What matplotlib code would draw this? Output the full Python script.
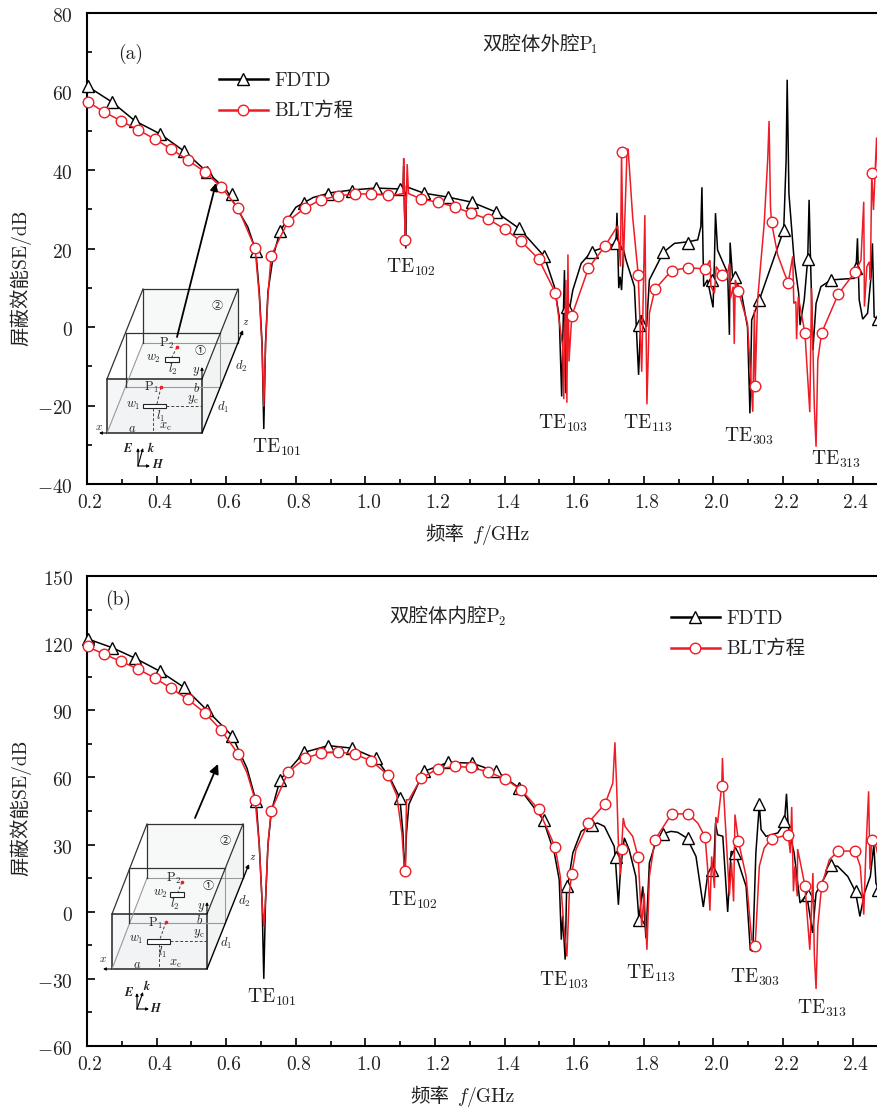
import matplotlib
matplotlib.use('Agg')
import matplotlib.pyplot as plt
from matplotlib.patches import Polygon, Rectangle
from matplotlib.ticker import MultipleLocator
from matplotlib.lines import Line2D
from matplotlib.transforms import ScaledTranslation

plt.rcParams['font.family'] = ['cmr10', 'Noto Sans CJK SC', 'DejaVu Sans']
plt.rcParams['mathtext.fontset'] = 'cm'
plt.rcParams['axes.unicode_minus'] = False
plt.rcParams['axes.formatter.use_mathtext'] = True

W, H = 878, 1110
FS = 14
INK = '#222222'
RED = '#ee1c25'

# ---- marker sample frequencies (GHz)
black_mark_f = [.203, .272, .338, .41, .479, .545, .617, .686, .755, .824, .893, .961, 1.03, 1.099, 1.168, 1.237,
                1.306, 1.375, 1.441, 1.513, 1.579, 1.651, 1.72, 1.786, 1.855, 1.927, 1.996, 2.062, 2.131, 2.203,
                2.272, 2.338, 2.41, 2.473]
red_mark_f = [.203, .249, .298, .347, .395, .441, .49, .539, .585, .634, .683, .729, .778, .826, .872, .921, .97,
              1.016, 1.065, 1.114, 1.16, 1.208, 1.257, 1.303, 1.352, 1.4, 1.447, 1.498, 1.545, 1.593, 1.64, 1.689,
              1.736, 1.784, 1.832, 1.88, 1.928, 1.976, 2.024, 2.072, 2.12, 2.167, 2.215, 2.263, 2.311, 2.359, 2.407,
              2.455]

# ---- panel (a) values
a_black_mark = [61.4, 57.3, 52.5, 49.2, 44.8, 39.5, 33.9, 19.4, 24.5, 31.6, 33.9, 34.7, 35.4, 35.2, 34.1, 33.1, 31.8,
                29.3, 25.1, 18, 5, 19.2, 21.3, 0.5, 19, 21.5, 12, 12.7, 7, 24.7, 17.3, 12, 15, 2]
a_red_mark = [57.3, 54.8, 52.5, 50.2, 47.9, 45.4, 42.5, 39.5, 35.7, 30.3, 20.1, 18.1, 27, 30.3, 32.4, 33.4, 33.9, 33.9,
              33.6, 22.2, 32.6, 31.8, 30.6, 29, 27.5, 25, 21.8, 17.3, 8.6, 2.8, 15, 20.7, 44.6, 13.2, 9.7, 14.3, 15,
              14.8, 13.2, 9.2, -15, 26.8, 11.3, -1.5, -1.5, 8.4, 14, 39.2]
a_black_f = [.2, .272, .338, .41, .479, .545, .6, .662, .685, .695, .703, .708, .713, .72, .735, .755, .8, .85, .9,
             .96, 1.03, 1.09, 1.108, 1.11, 1.112, 1.116, 1.118, 1.125, 1.168, 1.237, 1.306, 1.375,
             1.442, 1.514, 1.543, 1.557, 1.564, 1.568, 1.572, 1.576, 1.581, 1.596, 1.62, 1.65, 1.72, 1.723, 1.728,
             1.732, 1.736, 1.742, 1.749, 1.773, 1.785, 1.792, 1.8, 1.808, 1.816, 1.856, 1.888, 1.926, 1.955, 1.964,
             1.967, 1.972, 1.983, 1.999, 2.003, 2.006, 2.012, 2.041, 2.046, 2.048, 2.055, 2.079, 2.098, 2.105, 2.11,
             2.132, 2.202, 2.209, 2.212, 2.217, 2.232, 2.245, 2.249, 2.261, 2.271, 2.275, 2.279, 2.286, 2.295, 2.309,
             2.338, 2.405, 2.41, 2.414, 2.419, 2.429, 2.443, 2.453, 2.457, 2.462, 2.476]
a_black_se = [61.4, 57.3, 52.5, 49.2, 44.8, 39.5, 35, 25.5, 19.5, 9, -4, -26, -4, 9, 18, 24.5, 30.5, 33, 34.2,
              34.9, 35.4, 35.2, 35.5, 41, 30, 20, 36, 35.5, 34.1, 33.1, 31.8, 29.3,
              25.1, 18, 10.3, 2.6, -17.7, 0, 14.5, -16.9, 1.8, 9.4, 16.2, 19.2, 21.3, 29.1, 9.9,
              12.8, 9.4, 19.6, 17, 10.3, -12.2, 3, 1.5, 0, 12, 19, 21.3, 21.7, 22.2, 25.6,
              35.6, 10.3, 12, 5, 17, 29, 19.6, 13.7, -2, 21.5, 12.8, 9.4, 0, -22, 1.8,
              6.9, 24.7, 42.6, 63, 34, 17, 8.6, 0.5, 6.9, 17.3, 32.4, 17.3, -5.9, 6, 10.3,
              12, 12.4, 15, 22.6, 6.9, 2, 3.5, 12.8, 21.3, 2.6, 1.8]
a_red_f = [.2, .249, .298, .347, .395, .441, .49, .539, .585, .634, .683, .695, .703, .708, .713, .72, .729, .778,
           .826, .872, .921, .97, 1.016, 1.065, 1.09, 1.108, 1.11, 1.113, 1.114, 1.117, 1.12, 1.124, 1.16, 1.208,
           1.257, 1.303, 1.352, 1.4, 1.449, 1.498, 1.546, 1.567, 1.57, 1.576, 1.579, 1.582, 1.585, 1.593, 1.641,
           1.689, 1.725, 1.733, 1.736, 1.741, 1.752, 1.755, 1.768, 1.784, 1.794, 1.803, 1.809, 1.816, 1.832, 1.88,
           1.928, 1.976, 1.99, 1.993, 2.003, 2.008, 2.024, 2.041, 2.046, 2.049, 2.057, 2.06, 2.063, 2.072, 2.098,
           2.113, 2.118, 2.12, 2.127, 2.146, 2.156, 2.16, 2.164, 2.167, 2.185, 2.204, 2.215, 2.228, 2.231, 2.237,
           2.239, 2.244, 2.263, 2.277, 2.282, 2.29, 2.295, 2.3, 2.311, 2.359, 2.407, 2.424, 2.432, 2.434, 2.441,
           2.448, 2.451, 2.455, 2.46, 2.469, 2.476]
a_red_se = [57.5, 54.8, 52.5, 50.2, 47.9, 45.4, 42.5, 39.5, 35.7, 30.3, 20.1, 8, -5, -20.3, -5, 8, 18.1, 27,
            30.3, 32.4, 33.4, 33.9, 33.9, 33.6, 33.7, 34, 43, 30, 22.2, 30, 41.5, 34, 32.6, 31.8,
            30.6, 29, 27.5, 25, 21.7, 17.3, 8.7, -5, -18.4, 12, -19.3, 18.5, -8.8, 2.8, 15,
            20.7, 25.8, 15.4, 44.5, 15.4, 45.3, 45.3, 28, 13.3, -11.4, 28.5, -19.7, 3.5, 9.6, 14.4,
            15.1, 14.8, 17, 10.3, 8.6, 15.4, 13.3, 13.7, 16.2, 7.3, 10.3, -4.3, 12, 9.2, 0.9,
            -21.6, 4.3, -15, 6.9, 26.4, 42.6, 52.5, 30.7, 26.6, 18.3, 13.7, 11.3, 18, 6, 6.5,
            -3.1, 7.7, -1.5, -21.7, 9.9, -20.3, -30.5, -8.4, -1.5, 8.4, 14, 17, 31.9, 5.2, 15.4,
            16.6, 12, 39.2, 29.8, 48.3, 26.4]

# ---- panel (b) values
b_black_mark = [122, 118, 113.3, 107.4, 100.2, 90, 78.6, 49.3, 59, 71.2, 74.2, 73.1, 68.5, 50.8, 62.7, 66.7, 66.4, 62.7,
                55.3, 41.1, 11.3, 38.9, 24.4, -3.6, 34.9, 32.9, 18.8, 26.2, 48.1, 40.7, 7.6, 20.7, 9.1, 9.8]
b_red_mark = [118.5, 115.1, 111.8, 108.4, 104.4, 99.9, 94.9, 88.8, 81.2, 70.6, 50, 45.1, 62.4, 68.5, 70.9, 71.5, 70.3,
              67.5, 61.1, 18, 59.6, 63.9, 64.9, 64.5, 62.5, 59.4, 54.2, 45.9, 29, 17, 39.8, 48.3, 28, 24.3, 32.2,
              43.7, 43.7, 33.5, 56.3, 31.4, -15.2, 32.6, 34.3, 11.6, 11.6, 27.1, 27.1, 32.2]
b_black_f = [.2, .272, .338, .41, .479, .545, .617, .66, .686, .695, .703, .708, .713, .72, .73, .755, .824, .893,
             .961, 1.03, 1.07, 1.099, 1.108, 1.113, 1.118, 1.125, 1.168, 1.237, 1.306, 1.375,
             1.442, 1.511, 1.543, 1.557, 1.563, 1.567, 1.574, 1.578, 1.581, 1.596, 1.62, 1.65, 1.667, 1.687, 1.715,
             1.718, 1.727, 1.733, 1.744, 1.758, 1.777, 1.786, 1.797, 1.806, 1.816, 1.835, 1.856, 1.878, 1.897, 1.924,
             1.95, 1.971, 1.983, 1.993, 2.0, 2.006, 2.012, 2.027, 2.041, 2.051, 2.063, 2.094, 2.106, 2.113, 2.122,
             2.132, 2.137, 2.151, 2.185, 2.204, 2.21, 2.215, 2.232, 2.249, 2.268, 2.285, 2.295, 2.338, 2.357, 2.386,
             2.408, 2.421, 2.434, 2.451, 2.461, 2.467, 2.475]
b_black_se = [122, 118, 113.3, 107.4, 100.2, 90, 78.6, 64, 49.3, 30, 5, -30, 5, 30, 45, 59, 71.2, 74.2,
              73.1, 68.5, 60, 50.8, 35, 16, 35, 48, 62.7, 66.7, 66.4, 62.7,
              55.3, 41.1, 26.2, 14.3, -12.5, -2, -21.4, 8.3, 11.3, 26.2, 35.9, 38.9, 39.6, 38.1, 29.2,
              24.4, 3.1, 18.8, 33, 27.7, 15.8, -3.6, 11.3, -11.8, 21.8, 31.4, 34.9, 35.9, 35.5, 32.9,
              24.7, 2.1, 15.8, 18.8, 15.8, 39.6, 34.4, 33.7, -0.1, 27, 26.2, 11.3, -17, -17.7, 26.2,
              48.1, 36.7, 33.7, 35.2, 39.6, 52.7, 38.1, 26.2, 3.9, 7.6, -9.5, 8.3, 20.7, 20.3, 15.8,
              9.1, -2.1, 8.3, 15.8, 30, 12.8, 9.8]
b_red_f = [.2, .249, .298, .347, .395, .441, .49, .539, .585, .634, .66, .683, .695, .703, .708, .713, .72, .729, .778,
           .826, .872, .921, .97, 1.016, 1.065, 1.09, 1.105, 1.113, 1.1155, 1.116, 1.118, 1.125, 1.16, 1.208, 1.257,
           1.303, 1.352, 1.401, 1.449, 1.497, 1.545, 1.56, 1.57, 1.579, 1.586, 1.593, 1.605, 1.641, 1.689, 1.711,
           1.717, 1.722, 1.727, 1.733, 1.736, 1.741, 1.746, 1.768, 1.784, 1.794, 1.801, 1.809, 1.816, 1.832, 1.88,
           1.928, 1.955, 1.976, 1.983, 1.99, 1.995, 2.003, 2.007, 2.012, 2.024, 2.026, 2.03, 2.046, 2.052, 2.058,
           2.062, 2.072, 2.094, 2.11, 2.12, 2.132, 2.146, 2.167, 2.215, 2.221, 2.225, 2.23, 2.234, 2.241, 2.242,
           2.252, 2.263, 2.277, 2.282, 2.286, 2.29, 2.295, 2.3, 2.311, 2.333, 2.359, 2.407, 2.422, 2.432, 2.438,
           2.446, 2.45, 2.455, 2.467, 2.476]
b_red_se = [118.5, 115.1, 111.8, 108.4, 104.4, 99.9, 94.9, 88.8, 81.2, 70.6, 62, 50, 30, 5, -6.6, 5, 30, 45.1, 62.4,
            68.5, 70.9, 71.5, 70.3, 67.5, 61.1, 52, 35, 17.4, 20, 28, 50, 50, 59.6, 63.9, 64.9,
            64.5, 62.5, 59.4, 54.2, 45.9, 29, 15.8, -6.5, -20, 8.3, 17, 27.7, 39.8, 48.3, 57.5,
            75.7, 56, 30.7, 16.5, 28, 41.9, 38.1, 33.7, 24.3, -6.5, 8.3, -17, 15.8, 32.2, 43.7,
            43.7, 39.6, 33.5, 20.3, 0.5, 24.7, 10.6, 42.3, 39.6, 56.3, 68.7, 51.5, 7.3, 22, 4.6,
            43.4, 31.4, 15.8, -12.5, -15.2, 20.3, 28.5, 32.6, 34.3, 26.2, 46.8, 9.1, 20.3, 6.9, 28,
            20.3, 11.6, -17, 2.4, 17.3, -19.2, -34.5, -6.5, 11.6, 23.2, 27.1, 27.1, 20.3, -1.3, 26.2,
            53.8, 18.8, 32.2, 29.2, 23.2]

x_ticks = [0.2, 0.4, 0.6, 0.8, 1.0, 1.2, 1.4, 1.6, 1.8, 2.0, 2.2, 2.4]
a_y_ticks = [-40, -20, 0, 20, 40, 60, 80]
b_y_ticks = [-60, -30, 0, 30, 60, 90, 120, 150]

fig = plt.figure(figsize=(W / 100, H / 100), dpi=100)
px = 1 / 100


def make_axes(top, bottom):
    ax = fig.add_axes([87 / W, 1 - bottom / H, 791 / W, (bottom - top) / H])
    ax.set_xlim(0.2, 0.2 + 791 / 348)
    ax.spines['right'].set_visible(False)
    for s in ax.spines.values():
        s.set_linewidth(1.5)
    ax.tick_params(which='major', direction='in', length=5.8, width=1.2, pad=10, labelsize=FS, colors='k',
                   labelcolor=INK)
    ax.tick_params(which='minor', direction='in', length=3.6, width=1.2)
    ax.tick_params(axis='x', which='major', pad=7.5)
    ax.set_xticks(x_ticks)
    ax.set_xticklabels([f'{t:.1f}' for t in x_ticks])
    ax.xaxis.set_minor_locator(MultipleLocator(0.1))
    return ax


def nudge(ax):
    for lab in ax.get_xticklabels():
        lab.set_transform(lab.get_transform() + ScaledTranslation(3 * px, 0, fig.dpi_scale_trans))
    for lab in ax.get_yticklabels():
        lab.set_transform(lab.get_transform() + ScaledTranslation(0, -2 * px, fig.dpi_scale_trans))


def draw(ax, bf, bs, bmf, bms, rf, rs, rmf, rms):
    ax.plot(bf, bs, color='k', lw=1.1, zorder=2, solid_joinstyle='miter')
    ax.plot(bmf, bms, ls='none', marker='^', ms=8.5, mfc='white', mec='k', mew=1.0, zorder=3, clip_on=False)
    ax.plot(rf, rs, color=RED, lw=1.1, zorder=4, solid_joinstyle='miter')
    ax.plot(rmf, rms, ls='none', marker='o', ms=7.6, mfc='white', mec=RED, mew=1.0, zorder=5, clip_on=False)


ax_a = make_axes(13, 484)
ax_a.set_ylim(-40, 80)
ax_a.set_yticks(a_y_ticks)
ax_a.set_yticklabels([f'${v}$' for v in a_y_ticks])
ax_a.yaxis.set_minor_locator(MultipleLocator(10))
draw(ax_a, a_black_f, a_black_se, black_mark_f, a_black_mark, a_red_f, a_red_se, red_mark_f, a_red_mark)
nudge(ax_a)

ax_b = make_axes(576, 1046)
ax_b.set_ylim(-60, 150)
ax_b.set_yticks(b_y_ticks)
ax_b.set_yticklabels([f'${v}$' for v in b_y_ticks])
ax_b.yaxis.set_minor_locator(MultipleLocator(15))
draw(ax_b, b_black_f, b_black_se, black_mark_f, b_black_mark, b_red_f, b_red_se, red_mark_f, b_red_mark)
nudge(ax_b)

for ax, xpx, ypx in ((ax_a, 219, 72), (ax_b, 671, 610)):
    handles = [Line2D([], [], color='k', lw=1.8, marker='^', ms=8.5, mfc='white', mec='k', mew=1.0),
               Line2D([], [], color=RED, lw=1.8, marker='o', ms=7.6, mfc='white', mec=RED, mew=1.0)]
    ax.legend(handles, ['FDTD', 'BLT方程'], loc='upper left', bbox_to_anchor=(xpx / W, 1 - ypx / H),
              bbox_transform=fig.transFigure, frameon=False, borderpad=0, borderaxespad=0, numpoints=1,
              handlelength=2.5, handletextpad=0.36, labelspacing=0.62, fontsize=FS, labelcolor=INK)

# overlay in pixel coordinates for annotations and the schematic insets
ov = fig.add_axes([0, 0, 1, 1], zorder=10)
ov.set_xlim(0, W)
ov.set_ylim(H, 0)
ov.axis('off')
ov.patch.set_alpha(0)


def T(x, y, s, size=FS, ha='center', va='center', rot=0):
    ov.text(x, y, s, fontsize=size, ha=ha, va=va, rotation=rot, color=INK)


T(131, 54, '(a)')
T(118, 600, '(b)')
T(482, 45, '双腔体外腔P', ha='left')
T(591, 50, '1', size=9, ha='left')
T(389, 617, '双腔体内腔P', ha='left')
T(498, 622, '2', size=9, ha='left')

for x, y, m in ((277, 447, '101'), (411, 267, '102'), (563, 423, '103'), (648, 423, '113'), (749, 436, '303'),
                (836, 459, '313'), (272, 997, '101'), (413, 900, '102'), (564, 980, '103'), (651, 973, '113'),
                (755, 977, '303'), (822, 1008, '313')):
    T(x, y, r'$\mathrm{TE}_{%s}$' % m, size=FS)

for yc in (278, 808):
    T(21, yc, '屏蔽效能SE/dB', rot=90)
for xs, ys in ((425, 535), (410, 1097)):
    T(xs, ys, '频率', ha='left')
    T(xs + 47, ys, '$f$', ha='left')
    T(xs + 57, ys, '/GHz', ha='left')


def arrow(x0, y0, x1, y1, lw=1.0, ms=6, style='-|>'):
    ov.annotate('', xy=(x1, y1), xytext=(x0, y0),
                arrowprops=dict(arrowstyle=style, lw=lw, color='k', mutation_scale=ms, shrinkA=0, shrinkB=0))


def cavity(front, mid, back, z_end, items, rects, dashes, dots, yarr, xarr, ekh):
    for verts, a in (([back[0], back[1], back[2], back[3]], .45), ([back[3], back[2], front[2], front[3]], .45),
                     ([front[0], front[1], front[2], front[3]], .55), ([front[1], back[1], back[2], front[2]], .45)):
        ov.add_patch(Polygon(verts, closed=True, fc='#eef0f1', ec='none', alpha=a))
    ov.plot([back[3][0], back[2][0]], [back[3][1], back[2][1]], color='#999999', lw=0.8)
    ov.plot([back[3][0], front[3][0]], [back[3][1], front[3][1]], color='#999999', lw=0.8)
    ov.plot([mid[3][0], mid[2][0], mid[1][0]], [mid[3][1], mid[2][1], mid[1][1]], color='#999999', lw=0.8)
    ov.plot([mid[3][0], mid[0][0], mid[1][0]], [mid[3][1], mid[0][1], mid[1][1]], color='#333333', lw=0.9)
    ov.plot([back[3][0], back[0][0], back[1][0], back[2][0]], [back[3][1], back[0][1], back[1][1], back[2][1]],
            color='#333333', lw=0.9)
    ov.add_patch(Polygon(front, closed=True, fc='none', ec='#222222', lw=1.1))
    ov.plot([front[0][0], back[0][0]], [front[0][1], back[0][1]], color='#333333', lw=0.9)
    ov.plot([front[1][0], back[1][0]], [front[1][1], back[1][1]], color='#333333', lw=0.9)
    arrow(front[2][0], front[2][1], z_end[0], z_end[1], lw=1.0, ms=5)
    for (x0, y0, w, h) in rects:
        ov.add_patch(Rectangle((x0, y0), w, h, fc='white', ec='#222222', lw=0.8))
    for (x0, y0, x1, y1) in dashes:
        ov.plot([x0, x1], [y0, y1], color='#444444', lw=0.7, ls=(0, (3, 2)))
    for (x0, y0) in dots:
        ov.plot([x0], [y0], 'o', color=RED, ms=2.6, mec='none')
    arrow(*yarr, lw=0.8, ms=4)
    arrow(*xarr, lw=0.8, ms=4)
    ox, oy = ekh[0]
    for end in ekh[1:]:
        arrow(ox, oy, end[0], end[1], lw=0.8, ms=4)
    for x, y, s, size in items:
        T(x, y, s, size=size)


cavity([(107, 379), (202, 379), (202, 433), (107, 433)],
       [(126, 333), (220, 333), (220, 387), (126, 387)],
       [(143, 289), (238, 289), (238, 343), (143, 343)],
       (243, 330),
       [(246, 322, '$z$', 8), (241, 366, '$d_2$', 9), (223, 407, '$d_1$', 9), (200, 351, '①', 8), (217, 306, '②', 8),
        (166, 343, '$\\mathrm{P}_2$', 9), (153, 359, '$w_2$', 9), (173, 369, '$l_2$', 9), (196, 372, '$y$', 9),
        (151, 387, '$\\mathrm{P}_1$', 9), (197, 388, '$b$', 9), (193, 399, '$y_\\mathrm{c}$', 9),
        (133, 406, '$w_1$', 9), (161, 416, '$l_1$', 9), (165, 427, '$x_\\mathrm{c}$', 9), (132, 429, '$a$', 9),
        (99, 427, '$x$', 8), (128, 448, '$\\boldsymbol{E}$', 9), (151, 448, '$\\boldsymbol{k}$', 9),
        (158, 465, '$\\boldsymbol{H}$', 9)],
       [(165, 357, 14, 5), (143, 404, 23, 4)],
       [(166, 406, 202, 406), (153, 408, 153, 433), (161, 387, 157, 404), (177, 347, 172, 357)],
       [(177, 347), (161, 387)],
       (202, 379, 202, 367), (107, 433, 99, 433),
       [(138, 466), (138, 448), (143, 448), (150, 466)])

cavity([(112, 914), (207, 914), (207, 969), (112, 969)],
       [(129, 868), (225, 868), (225, 923), (129, 923)],
       [(147, 824), (243, 824), (243, 878), (147, 878)],
       (249, 864),
       [(253, 857, '$z$', 8), (244, 901, '$d_2$', 9), (226, 943, '$d_1$', 9), (208, 886, '①', 8), (225, 841, '②', 8),
        (173, 878, '$\\mathrm{P}_2$', 9), (160, 894, '$w_2$', 9), (175, 904, '$l_2$', 9), (201, 907, '$y$', 9),
        (155, 923, '$\\mathrm{P}_1$', 9), (200, 921, '$b$', 9), (199, 933, '$y_\\mathrm{c}$', 9),
        (136, 940, '$w_1$', 9), (163, 952, '$l_1$', 9), (175, 964, '$x_\\mathrm{c}$', 9), (137, 965, '$a$', 9),
        (103, 959, '$x$', 8), (129, 992, '$\\boldsymbol{E}$', 9), (147, 986, '$\\boldsymbol{k}$', 9),
        (156, 1009, '$\\boldsymbol{H}$', 9)],
       [(170, 892, 14, 5), (147, 939, 23, 5)],
       [(170, 941, 207, 941), (159, 944, 159, 969), (166, 922, 160, 939), (182, 882, 178, 892)],
       [(182, 882), (166, 922)],
       (207, 914, 207, 902), (112, 969, 103, 969),
       [(137, 1009), (137, 993), (143, 992), (149, 1009)])

arrow(177, 337, 216, 183, lw=1.3, ms=11)
arrow(195, 818, 218, 764, lw=1.3, ms=14)

fig.savefig('out.png', dpi=100)
